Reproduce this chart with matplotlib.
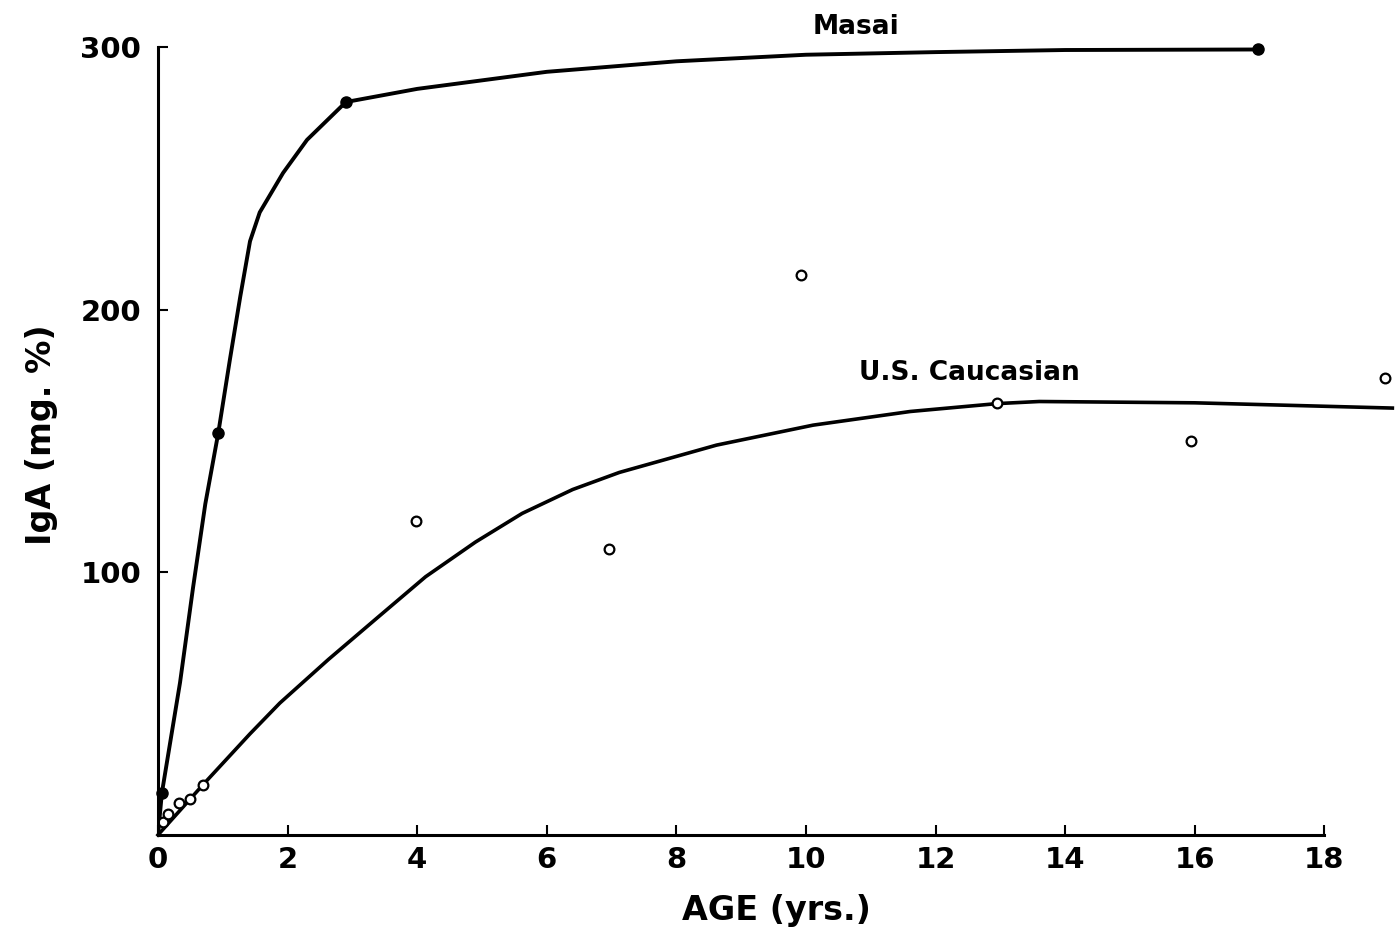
import matplotlib
matplotlib.use("Agg")
import matplotlib.pyplot as plt

# Masai: measured points (filled) and the hand-drawn curve through them
masai_x = [0.06, 0.93, 2.9, 16.97]
masai_y = [16, 153, 279, 299]
masai_curve_x = [0.0, 0.06, 0.34, 0.54, 0.73, 0.93, 1.11, 1.27, 1.42, 1.57, 1.93, 2.3, 2.9,
                 4.0, 6.0, 8.0, 10.0, 12.0, 14.0, 16.97]
masai_curve_y = [0, 16, 58, 94, 126, 153, 181, 205, 226, 237, 252, 264.6, 279,
                 284, 290.5, 294.5, 297, 298, 298.8, 299]

# U.S. Caucasian: measured points (open) and fitted curve
us_x = [0.08, 0.15, 0.33, 0.5, 0.7, 3.98, 6.96, 9.92, 12.95, 15.94, 18.93]
us_y = [5, 8, 12, 13.5, 19, 119.5, 109, 213, 164.5, 150, 174]
us_curve_x = [0.0, 0.69, 1.42, 1.88, 2.63, 3.4, 4.13, 4.9, 5.62, 6.4, 7.12, 8.62, 10.11,
              11.61, 12.95, 13.6, 16.0, 19.05]
us_curve_y = [0, 19, 38.5, 50.2, 66.8, 83, 98.3, 111.5, 122.4, 131.5, 138, 148.4, 156,
              161.2, 164.2, 165, 164.5, 162.5]

x_ticks = [0, 2, 4, 6, 8, 10, 12, 14, 16, 18]
x_tick_labels = ["0", "2", "4", "6", "8", "10", "12", "14", "16", "18"]
y_ticks = [100, 200, 300]
y_tick_labels = ["100", "200", "300"]

plt.rcParams["font.family"] = ["DejaVu Sans"]
plt.rcParams["font.weight"] = "bold"

fig = plt.figure(figsize=(13.97, 9.5), dpi=100)
ax = fig.add_axes([0.1131, 0.1211, 0.8859, 0.8434])

ax.plot(masai_curve_x, masai_curve_y, color="black", lw=2.8,
        solid_joinstyle="round", solid_capstyle="round")
ax.plot(masai_x, masai_y, "o", color="black", ms=8, clip_on=False)
ax.plot(us_curve_x, us_curve_y, color="black", lw=2.6, solid_joinstyle="round", clip_on=False)
ax.plot(us_x, us_y, "o", mfc="white", mec="black", mew=1.6, ms=7, clip_on=False)

ax.text(10.77, 307.5, "Masai", fontsize=19, ha="center", va="center")
ax.text(12.52, 176, "U.S. Caucasian", fontsize=19, ha="center", va="center")

ax.set_xlim(0, 19.1)
ax.set_ylim(0, 305)
ax.spines["top"].set_visible(False)
ax.spines["right"].set_visible(False)
ax.spines["bottom"].set_bounds(0, 18)
ax.spines["left"].set_bounds(0, 300)
for s in ("left", "bottom"):
    ax.spines[s].set_linewidth(2.2)

ax.set_xticks(x_ticks)
ax.set_xticklabels(x_tick_labels)
ax.set_yticks(y_ticks)
ax.set_yticklabels(y_tick_labels)
ax.tick_params(axis="both", direction="in", length=7, width=1.5, labelsize=21)
ax.tick_params(axis="x", pad=8)
ax.tick_params(axis="y", pad=12)

ax.set_xlabel("AGE (yrs.)", fontsize=24, fontweight="bold", labelpad=14)
ax.set_ylabel("IgA (mg. %)", fontsize=24, fontweight="bold", labelpad=16)

fig.savefig("out.png", dpi=100)
